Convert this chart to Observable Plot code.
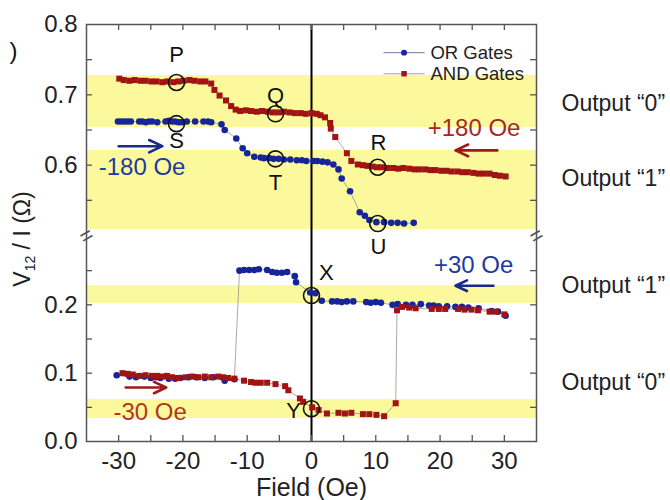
<!DOCTYPE html>
<html><head><meta charset="utf-8">
<script src="https://cdn.jsdelivr.net/npm/d3@7"></script>
<script src="https://cdn.jsdelivr.net/npm/@observablehq/plot@0.6"></script>
<style>body{margin:0;background:#fff;} svg{display:block}</style>
</head><body><div id="chart"></div>
<script>
// ---------- data (field in Oe, V12/I in ohm) ----------
const andTop = [[-29.9,0.723],[-29.2,0.721],[-28.3,0.720],[-27.5,0.721],[-26.6,0.720],[-25.8,0.720],[-24.9,0.719],[-24.1,0.719],[-23.2,0.718],[-22.4,0.719],[-21.5,0.718],[-20.7,0.719],[-19.9,0.720],[-19.0,0.721],[-18.2,0.720],[-17.3,0.719],[-16.5,0.719],[-15.6,0.716],[-15.1,0.707],[-14.3,0.699],[-13.3,0.692],[-12.5,0.684],[-11.8,0.679],[-11.1,0.677],[-10.2,0.678],[-9.4,0.677],[-8.5,0.676],[-7.7,0.677],[-6.8,0.676],[-6.0,0.675],[-5.1,0.675],[-4.3,0.676],[-3.4,0.675],[-2.6,0.674],[-1.7,0.674],[-0.9,0.673],[0.0,0.674],[0.8,0.673],[1.4,0.671],[2.1,0.668],[2.9,0.660],[3.0,0.652],[3.7,0.640],[5.5,0.617],[6.2,0.606],[7.2,0.601],[8.0,0.600],[8.7,0.599],[9.5,0.598],[10.2,0.597],[11.0,0.597],[11.8,0.596],[12.7,0.596],[13.5,0.595],[14.3,0.596],[15.2,0.595],[16.0,0.594],[16.8,0.594],[17.7,0.594],[18.5,0.593],[19.3,0.593],[20.2,0.592],[21.0,0.592],[21.8,0.591],[22.7,0.591],[23.5,0.590],[24.3,0.590],[25.2,0.589],[26.0,0.588],[26.8,0.588],[27.7,0.588],[28.5,0.586],[29.3,0.585],[30.2,0.584]];
const orTop = [[-30.1,0.662],[-29.6,0.662],[-29.1,0.662],[-28.6,0.662],[-28.1,0.662],[-26.8,0.662],[-26.3,0.662],[-25.8,0.661],[-25.3,0.662],[-24.8,0.662],[-24.0,0.661],[-22.7,0.662],[-22.2,0.663],[-21.7,0.662],[-21.2,0.662],[-20.7,0.661],[-20.2,0.661],[-19.4,0.662],[-18.1,0.662],[-16.8,0.662],[-16.1,0.662],[-15.6,0.661],[-14.0,0.658],[-13.5,0.650],[-11.7,0.638],[-10.7,0.624],[-10.0,0.617],[-8.9,0.612],[-7.9,0.611],[-7.4,0.610],[-6.6,0.610],[-5.9,0.609],[-5.1,0.609],[-4.3,0.608],[-3.3,0.608],[-2.3,0.607],[-1.5,0.607],[-0.8,0.606],[0.3,0.606],[0.9,0.606],[1.7,0.605],[2.5,0.604],[3.4,0.601],[4.2,0.594],[4.7,0.581],[6.0,0.563],[7.5,0.533],[8.3,0.528],[9.0,0.522],[10.1,0.519],[11.3,0.519],[12.4,0.518],[13.4,0.518],[14.4,0.517],[15.9,0.518]];
const orBottom = [[-30.3,0.097],[-28.3,0.095],[-27.3,0.094],[-26.0,0.095],[-25.0,0.093],[-24.2,0.094],[-23.5,0.093],[-22.2,0.092],[-21.2,0.092],[-20.4,0.093],[-19.1,0.094],[-17.9,0.094],[-16.6,0.093],[-15.3,0.094],[-13.5,0.089],[-12.0,0.091],[-11.2,0.250],[-10.5,0.251],[-9.7,0.251],[-8.9,0.251],[-8.2,0.252],[-6.9,0.251],[-6.1,0.248],[-5.4,0.247],[-4.6,0.247],[-3.8,0.248],[-2.6,0.242],[-2.4,0.233],[-0.2,0.218],[0.6,0.217],[1.6,0.206],[3.2,0.205],[4.0,0.205],[4.7,0.204],[5.5,0.205],[6.5,0.205],[8.5,0.204],[9.2,0.203],[10.0,0.204],[10.8,0.203],[12.6,0.200],[13.4,0.201],[14.7,0.200],[15.7,0.200],[17.0,0.201],[18.3,0.199],[19.0,0.199],[19.8,0.198],[21.1,0.198],[22.4,0.197],[23.4,0.197],[24.4,0.196],[26.0,0.195],[28.0,0.191],[29.0,0.190],[30.2,0.184]];
const andBottom = [[-29.4,0.100],[-28.6,0.099],[-27.8,0.098],[-26.8,0.096],[-25.8,0.097],[-24.8,0.096],[-24.0,0.096],[-23.2,0.095],[-22.5,0.096],[-21.7,0.094],[-20.7,0.093],[-19.6,0.094],[-18.6,0.095],[-17.6,0.094],[-16.6,0.095],[-15.6,0.094],[-14.5,0.095],[-13.8,0.094],[-13.0,0.093],[-12.0,0.092],[-10.5,0.089],[-9.4,0.087],[-8.7,0.086],[-7.9,0.086],[-6.9,0.086],[-5.6,0.084],[-4.1,0.081],[-3.6,0.075],[-1.8,0.063],[-1.3,0.058],[0.1,0.050],[1.1,0.046],[2.4,0.041],[4.2,0.042],[5.2,0.041],[6.2,0.042],[8.0,0.040],[9.0,0.040],[10.1,0.039],[11.3,0.037],[13.1,0.056],[13.3,0.192],[14.1,0.197],[15.2,0.196],[16.2,0.195],[18.7,0.194],[19.8,0.194],[20.8,0.194],[22.8,0.194],[23.8,0.193],[24.9,0.193],[25.9,0.192],[27.7,0.190],[28.7,0.190],[30.0,0.186]];

const bands = [[0.6535,0.7275],[0.5085,0.621],[0.202,0.228],[0.0336,0.0614]];
const xTicks = [-30,-25,-20,-15,-10,-5,0,5,10,15,20,25,30];
const xTickLabels = [-30,-20,-10,0,10,20,30];
const yTicks = [0.05,0.1,0.15,0.2,0.25,0.55,0.6,0.65,0.7,0.75];
const yTickLabels = [0.0,0.1,0.2,0.6,0.7,0.8];
const markers = [
  {name:"P", x:-21.0, y:0.7175, lx:-21.0, ly:0.756},
  {name:"S", x:-21.0, y:0.659,  lx:-21.0, ly:0.635},
  {name:"Q", x:-5.6,  y:0.673,  lx:-5.6,  ly:0.699},
  {name:"T", x:-5.6,  y:0.609,  lx:-5.6,  ly:0.575},
  {name:"R", x:10.3,  y:0.597,  lx:10.4,  ly:0.631},
  {name:"U", x:10.3,  y:0.517,  lx:10.4,  ly:0.284},
  {name:"X", x:0,     y:0.2136, lx:2.3,   ly:0.247},
  {name:"Y", x:0,     y:0.048,  lx:-2.8,  ly:0.045}
];
const notesLeft = [
  {text:"-180 Oe", x:-33.1, y:0.597, color:"#1f3a9e"},
  {text:"-30 Oe",  x:-30.8, y:0.0424,color:"#b0381c"}
];
const notesRight = [
  {text:"+180 Oe", x:32.5,  y:0.652, color:"#a8281e"},
  {text:"+30 Oe",  x:31.4,  y:0.2575,color:"#1f3a9e"}
];
const arrows = [
  {x1:-30.0, x2:-23.2, y:0.627, color:"#1a2a8c"},
  {x1:28.9,  x2:22.4,  y:0.621, color:"#a01818"},
  {x1:28.3,  x2:22.4,  y:0.228, color:"#1a2a8c"},
  {x1:-28.9, x2:-22.6, y:0.079, color:"#a01818"}
];
const outputs = [
  {text:"Output \u201C0\u201D", y:0.688},
  {text:"Output \u201C1\u201D", y:0.581},
  {text:"Output \u201C1\u201D", y:0.228},
  {text:"Output \u201C0\u201D", y:0.086}
];
const legendItems = [
  {name:"OR Gates",  y:0.760, color:"#16259a", line:"#8a90b8", symbol:"circle", r:3.2},
  {name:"AND Gates", y:0.730, color:"#a01414", line:"#c89090", symbol:"square", r:3.4}
];
const legendX = {x1:11.2, x2:17.6, sym:14.4, text:18.5};

const BLUE = "#16259a", RED = "#a01414", YELLOW = "#fcf99c", AX = "#555";
const xDom = [-35, 35];
const tx = 0.93;

// broken y axis: 0–0.3 below the break, 0.5–0.8 above it
const LOW = 205 / 0.3, HIGH = 211 / 0.3, GAP = 1;
const yv = v => v < 0.4 ? v * LOW : 0.3 * LOW + GAP + (v - 0.5) * HIGH;
const yTop = yv(0.8), yBreak = 0.3 * LOW + GAP / 2;
const yLabelPos = yTickLabels.map(yv);
const fmt = d3.format(".1f");

const series = [
  {d: andTop, c: RED, s:"square", r:3.4},
  {d: orTop, c: BLUE, s:"circle", r:3.3},
  {d: andBottom, c: RED, s:"square", r:3.4},
  {d: orBottom, c: BLUE, s:"circle", r:3.3}
];

const marks = [
  Plot.rect(bands, {x1: xDom[0], x2: xDom[1], y1: d => yv(d[0]), y2: d => yv(d[1]), fill: YELLOW}),
  Plot.ruleX([0], {stroke: "#000", strokeWidth: 2})
];
for (const s of series) {
  marks.push(Plot.line(s.d, {x: d => d[0], y: d => yv(d[1]), stroke: "#777", strokeOpacity: 0.7, strokeWidth: 0.9}));
}
for (const s of [series[1], series[0], series[3], series[2]]) {
  marks.push(Plot.dot(s.d, {x: d => d[0], y: d => yv(d[1]), fill: s.c, stroke: "none", symbol: s.s, r: s.r}));
}
marks.push(
  Plot.dot(markers, {x: "x", y: d => yv(d.y), r: 8, stroke: "#111", strokeWidth: 1.6, fill: "none"}),
  Plot.text(markers, {x: "lx", y: d => yv(d.ly), text: "name", fontSize: 22, fill: "#111"}),
  Plot.text(notesLeft, {x: "x", y: d => yv(d.y), text: "text", fill: "color", textAnchor: "start", fontSize: 24}),
  Plot.text(notesRight, {x: "x", y: d => yv(d.y), text: "text", fill: "color", textAnchor: "end", fontSize: 24}),
  Plot.arrow(arrows, {x1: "x1", x2: "x2", y1: d => yv(d.y), y2: d => yv(d.y), stroke: "color", strokeWidth: 2.6, headLength: 11, headAngle: 50}),
  Plot.text(outputs, {x: xDom[1], y: d => yv(d.y), dx: 25, text: "text", textAnchor: "start", fontSize: 23, fill: "#222"}),
  // legend
  Plot.link(legendItems, {x1: legendX.x1, x2: legendX.x2, y1: d => yv(d.y), y2: d => yv(d.y), stroke: "line", strokeWidth: 1.2}),
  Plot.dot(legendItems, {x: legendX.sym, y: d => yv(d.y), fill: "color", symbol: "symbol", r: "r", stroke: "none"}),
  Plot.text(legendItems, {x: legendX.text, y: d => yv(d.y), text: "name", textAnchor: "start", fontSize: 18.5, fill: "#222"}),
  // inward ticks on all four sides (6 px long)
  Plot.ruleX(xTicks, {x: d => d, y1: 0, y2: 6, stroke: AX, strokeWidth: 1.3}),
  Plot.ruleX(xTicks, {x: d => d, y1: yTop, y2: yTop - 6, stroke: AX, strokeWidth: 1.3}),
  Plot.ruleY(yTicks, {y: d => yv(d), x1: xDom[0], x2: xDom[0] + tx, stroke: AX, strokeWidth: 1.3}),
  Plot.ruleY(yTicks, {y: d => yv(d), x1: xDom[1], x2: xDom[1] - tx, stroke: AX, strokeWidth: 1.3}),
  Plot.axisX(xTickLabels, {tickSize: 0, tickPadding: 10, fontSize: 24, fill: "#222", label: null, tickFormat: d => String(d)}),
  Plot.axisY(yLabelPos, {tickSize: 0, tickPadding: 9, fontSize: 24, fill: "#222", label: null, tickFormat: d => fmt(yTickLabels[yLabelPos.indexOf(d)])}),
  Plot.frame({stroke: AX, strokeWidth: 1.5}),
  // axis breaks
  Plot.text([xDom[0], xDom[1]], {x: d => d, y: yBreak, text: () => "=", fontSize: 22, rotate: -30, fill: AX}),
  Plot.text(["Field (Oe)"], {x: 0, y: 0, dy: 46, text: d => d, fontSize: 25, fill: "#222"}),
  Plot.text([")"], {frameAnchor: "top-left", dx: -77, dy: 17, text: d => d, fontSize: 24, fill: "#111"})
);

const chart = Plot.plot({
  width: 670, height: 500,
  marginLeft: 86, marginRight: 134, marginTop: 24, marginBottom: 59,
  style: {fontFamily: "'Liberation Sans', Arial, sans-serif", fontSize: "24px", background: "#fff"},
  x: {domain: xDom},
  y: {domain: [0, yTop]},
  marks
});

// y-axis title with subscript
const svg = d3.select(chart);
const t = svg.append("text")
  .attr("transform", "translate(30,239) rotate(-90)")
  .attr("text-anchor", "middle")
  .attr("font-size", 23)
  .attr("fill", "#222")
  .attr("font-family", "'Liberation Sans', Arial, sans-serif");
t.append("tspan").text("V");
t.append("tspan").attr("font-size", 14).attr("dy", 5).text("12");
t.append("tspan").attr("dy", -5).text(" / I (\u03A9)");

document.getElementById("chart").appendChild(chart);
</script></body></html>
